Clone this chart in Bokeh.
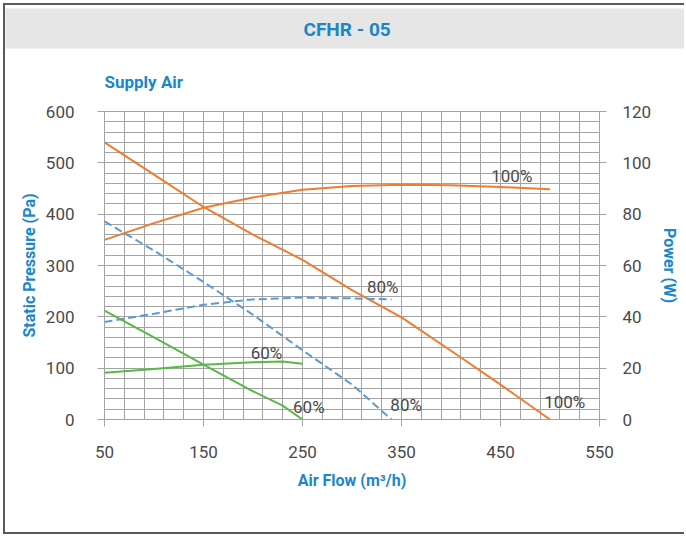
from bokeh.plotting import figure
from bokeh.models import Range1d, LinearAxis, FixedTicker, Title, ColumnDataSource
from bokeh.embed import file_html
from bokeh.resources import INLINE
from bokeh.core.properties import value

# ---------------- data ----------------
airflow_100 = [50, 100, 150, 200, 250, 300, 350, 400, 450, 500]
pressure_100 = [540, 477, 414, 360, 311, 252, 199, 134, 68, 0]
power_100 = [70, 76.5, 82.5, 86.5, 89.5, 91.0, 91.5, 91.3, 90.6, 89.7]

airflow_80 = [50, 100, 150, 200, 250, 300, 340]
pressure_80 = [386, 329, 268, 204, 135, 68, 0]
power_80 = [38.0, 41.2, 44.7, 46.8, 47.5, 47.2, 46.8]

airflow_60 = [50, 100, 150, 200, 230, 250]
pressure_60 = [212, 160, 107, 55, 27, 0]
power_60 = [18.2, 19.7, 21.3, 22.3, 22.6, 21.7]

x_ticks = [50, 150, 250, 350, 450, 550]
pressure_ticks = [0, 100, 200, 300, 400, 500, 600]
power_ticks = [0, 20, 40, 60, 80, 100, 120]

curve_labels = ["100%", "80%", "100%", "80%", "60%", "60%"]
curve_label_x = [461.4, 331.1, 514.9, 354.7, 213.6, 256.4]
curve_label_y = [475.3, 257.7, 33.7, 27.3, 129.6, 24.7]

chart_title = "CFHR - 05"
chart_subtitle = "Supply Air"

# ---------------- styles / layout ----------------
BLUE_TXT = "#1b87c6"
ORANGE = "#ed7d31"
LBLUE = "#5b9bd5"
GREEN = "#58b947"
GRID = "#a3a3a3"
TICK_TXT = "#4a4a4a"
FRAME = "#5a5a5a"
BAND = "#e6e6e6"
FONT = "Roboto"

OX, OY = 5, 5                 # canvas origin on the page (after css frame)
W, H = 686 - OX, 538 - OY - 2
FL, FR, FT, FB = 104, 599, 111, 419   # plot frame in page pixels
TITLE_LEFT = 303                      # page x where the title text starts

p = figure(width=W, height=H, output_backend="svg", toolbar_location=None,
           x_range=Range1d(50, 550), y_range=Range1d(0, 600),
           min_border_left=FL - OX, min_border_right=W - (FR - OX),
           min_border_top=FT - OY, min_border_bottom=H - (FB - OY),
           x_axis_label="Air Flow (m³/h)", y_axis_label="Static Pressure (Pa)",
           styles={"margin-left": "3px", "margin-top": "3px",
                   "border-left": f"2px solid {FRAME}",
                   "border-top": f"2px solid {FRAME}",
                   "border-bottom": f"2px solid {FRAME}"})
p.extra_y_ranges = {"power": Range1d(0, 120)}
p.background_fill_color = "white"
p.border_fill_color = "white"
p.outline_line_color = GRID
p.outline_line_width = 1

# titles (first added sits closest to the frame)
p.add_layout(Title(text=chart_subtitle, align="left", offset=0, standoff=40,
                   text_font=FONT, text_font_style="bold", text_font_size="17px",
                   text_color=BLUE_TXT), "above")
p.add_layout(Title(text=chart_title, align="left", offset=OX - FL, standoff=2,
                   text_font=FONT, text_font_style="bold", text_font_size="19px",
                   text_color=BLUE_TXT, background_fill_color=BAND,
                   padding=dict(left=TITLE_LEFT - OX, right=320, top=9, bottom=8)),
             "above")

# grid every 20 units
p.xgrid.ticker = FixedTicker(ticks=list(range(50, 551, 20)))
p.ygrid.ticker = FixedTicker(ticks=list(range(0, 601, 20)))
for g in (p.xgrid, p.ygrid):
    g.grid_line_color = GRID
    g.grid_line_width = 1

right = LinearAxis(y_range_name="power", axis_label="Power (W)")
p.add_layout(right, "right")

p.xaxis.ticker = FixedTicker(ticks=x_ticks)
p.yaxis[0].ticker = FixedTicker(ticks=pressure_ticks)
right.ticker = FixedTicker(ticks=power_ticks)

for ax in (p.xaxis[0], p.yaxis[0], right):
    ax.axis_line_color = GRID
    ax.major_tick_line_color = GRID
    ax.major_tick_out = 7
    ax.major_tick_in = 0
    ax.minor_tick_line_color = None
    ax.major_label_text_font = FONT
    ax.major_label_text_font_size = "17px"
    ax.major_label_text_color = TICK_TXT
    ax.axis_label_text_font = FONT
    ax.axis_label_text_font_style = "bold"
    ax.axis_label_text_font_size = "16px"
    ax.axis_label_text_color = BLUE_TXT

p.yaxis[0].major_label_standoff = 23
p.yaxis[0].axis_label_standoff = 4
right.major_label_standoff = 16
right.axis_label_standoff = 6
p.xaxis[0].major_label_standoff = 19
p.xaxis[0].axis_label_standoff = 10

# curves
p.line(airflow_100, pressure_100, line_color=ORANGE, line_width=2)
p.line(airflow_100, power_100, line_color=ORANGE, line_width=2, y_range_name="power")
p.line(airflow_80, pressure_80, line_color=LBLUE, line_width=2, line_dash="8 4")
p.line(airflow_80, power_80, line_color=LBLUE, line_width=2, line_dash="8 4",
       y_range_name="power")
p.line(airflow_60, pressure_60, line_color=GREEN, line_width=2)
p.line(airflow_60, power_60, line_color=GREEN, line_width=2, y_range_name="power")

src = ColumnDataSource(dict(x=curve_label_x, y=curve_label_y, t=curve_labels))
p.text(x="x", y="y", text="t", source=src, text_font=value(FONT),
       text_font_size="17px", text_color=TICK_TXT, text_align="center",
       text_baseline="middle")

open("out.html", "w").write(file_html(p, INLINE))
